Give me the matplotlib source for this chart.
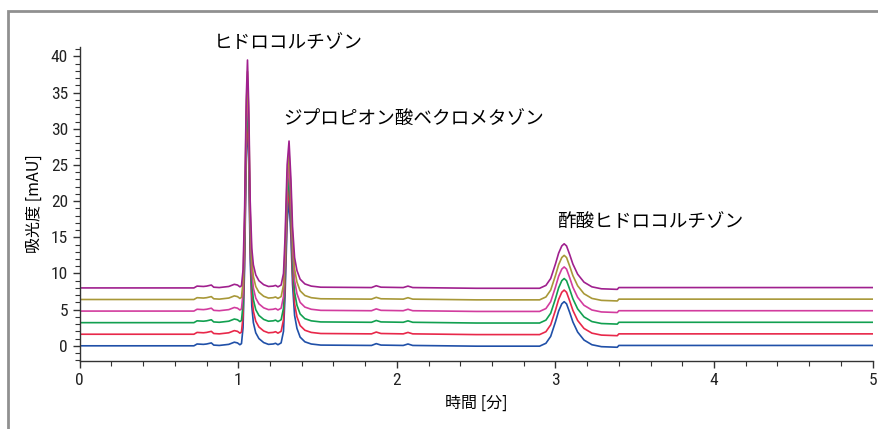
import matplotlib
matplotlib.use('Agg')
import matplotlib.pyplot as plt
from matplotlib.patches import Rectangle
from matplotlib.ticker import MultipleLocator
from matplotlib import font_manager

plt.rcParams['font.family'] = ['Noto Sans CJK JP', 'DejaVu Sans']

# 基本クロマトグラム (時間 [分], 吸光度 [mAU]) - 図から読み取り
times = [0.00, 0.72, 0.74, 0.78, 0.80, 0.83, 0.845, 0.88, 0.94, 0.975, 0.995,
         1.01, 1.02, 1.03, 1.04, 1.05, 1.058, 1.066, 1.075, 1.085, 1.095, 1.11,
         1.13, 1.16, 1.19, 1.22, 1.235, 1.25, 1.27, 1.285, 1.295, 1.308, 1.32,
         1.332, 1.342, 1.355, 1.37, 1.39, 1.42, 1.46, 1.52, 1.84, 1.87, 1.90,
         2.04, 2.07, 2.10, 2.50, 2.90, 2.94, 2.97, 3.00, 3.02, 3.04, 3.055,
         3.07, 3.09, 3.11, 3.14, 3.18, 3.23, 3.29, 3.39, 3.40, 5.00]
signal = [0.00, 0.00, 0.25, 0.20, 0.25, 0.40, 0.10, 0.05, 0.20, 0.50, 0.40,
          0.15, 0.30, 2.5, 11.0, 26.0, 31.5, 25.0, 12.0, 5.5, 3.2, 1.8,
          1.0, 0.45, 0.20, 0.25, 0.35, 0.15, 0.40, 2.0, 7.0, 17.0, 20.3,
          15.0, 8.5, 4.2, 2.4, 1.2, 0.55, 0.25, 0.10, 0.05, 0.30, 0.10,
          0.05, 0.25, 0.05, -0.05, -0.05, 0.35, 1.3, 3.3, 4.8, 5.8, 6.1,
          5.8, 4.6, 3.3, 1.9, 0.8, 0.15, -0.12, -0.20, 0.05, 0.05]

# 各トレースのオフセットと色
offsets = [0.0, 1.6, 3.2, 4.8, 6.4, 8.0]
colors = ['#2050a8', '#e8284a', '#12a050', '#d23c9e', '#a89838', '#a0208e']

# ピーク名
peak_names = ['ヒドロコルチゾン', 'ジプロピオン酸ベクロメタゾン', '酢酸ヒドロコルチゾン']
label_pos = [(1.313, 41.9), (1.283, 31.4), (3.01, 17.15)]

# 目盛り用の細字体 (あれば)
names = {f.name for f in font_manager.fontManager.ttflist}
tick_family = [n for n in ['Roboto Condensed', 'Liberation Sans Narrow',
                           'DejaVu Sans'] if n in names][0]

fig = plt.figure(figsize=(8.79, 4.29), dpi=100)
ax = fig.add_axes([0.0907, 0.1585, 0.902, 0.732])

for off, c in zip(offsets, colors):
    ax.plot(times, [s + off for s in signal], color=c, lw=1.2)

for name, (x, y) in zip(peak_names, label_pos):
    ha = 'center' if name == peak_names[0] else 'left'
    ax.text(x, y, name, fontsize=13.4, ha=ha, va='center', clip_on=False)

ax.set_xlim(0, 5)
ax.set_ylim(-2.1, 41.3)
ax.xaxis.set_major_locator(MultipleLocator(1))
ax.xaxis.set_minor_locator(MultipleLocator(0.2))
ax.yaxis.set_minor_locator(MultipleLocator(1))
ax.set_yticks([0, 5, 10, 15, 20, 25, 30, 35, 40])

ax.spines['top'].set_visible(False)
ax.spines['right'].set_visible(False)
for s in ['left', 'bottom']:
    ax.spines[s].set_color('#333333')
    ax.spines[s].set_linewidth(1.0)
ax.tick_params(which='major', length=5, width=1.0, color='#333333',
               labelsize=12.5, labelcolor='#222222')
ax.tick_params(which='minor', length=3.5, width=0.8, color='#333333')
for lab in ax.get_xticklabels() + ax.get_yticklabels():
    lab.set_family(tick_family)
    lab.set_stretch('condensed')

ax.set_xlabel('時間 [分]', fontsize=11.5, labelpad=5)
ax.set_ylabel('吸光度 [mAU]', fontsize=11.5, labelpad=6)

# 外枠
fig.patches.append(Rectangle((8 / 879, -0.5), 2.0, 0.5 + 1 - 11 / 429,
                             transform=fig.transFigure, fill=False,
                             edgecolor='#909090', lw=2))

fig.savefig('out.png', dpi=100)
